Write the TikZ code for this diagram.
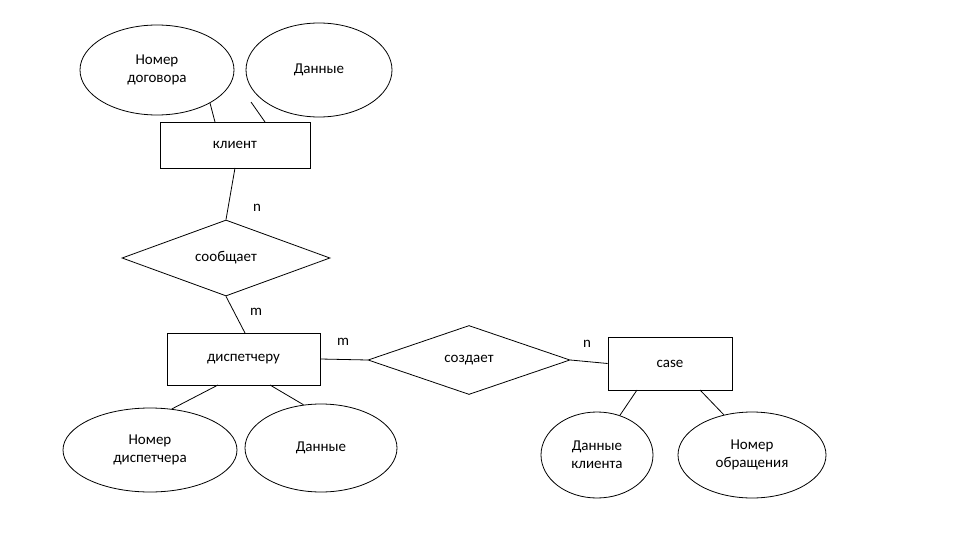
\documentclass[tikz,border=0pt]{standalone}
\usepackage{fontspec}
\setmainfont{Carlito}
\usetikzlibrary{shapes.geometric}
\begin{document}
\begin{tikzpicture}[x=1pt,y=-1pt,
  every node/.style={font=\fontsize{15}{18}\selectfont, align=center, inner sep=0pt},
  att/.style={draw, thick, ellipse},
  ln/.style={thick}]
\useasboundingbox (0,0) rectangle (960,540);
\node[att, minimum width=154, minimum height=90] (e1) at (157,70) {Номер\\договора};
\node[att, minimum width=146, minimum height=94] (e2) at (319,70) {Данные};
\node[draw, thick, minimum width=150, minimum height=46] (klient) at (235,145) {клиент};
\node[draw, thick, diamond, minimum width=208, minimum height=76, shape aspect=2.7] (soob) at (226,258) {сообщает};
\node[draw, thick, minimum width=153, minimum height=52] (disp) at (243.5,359) {диспетчеру};
\node[draw, thick, diamond, minimum width=202, minimum height=69, shape aspect=2.9] (sozd) at (469,360) {создает};
\node[draw, thick, minimum width=124, minimum height=53] (case) at (670,363.5) {case};
\node[att, minimum width=174, minimum height=84] (e3) at (150,450) {Номер\\диспетчера};
\node[att, minimum width=152, minimum height=88] (e4) at (321,448) {Данные};
\node[att, minimum width=112, minimum height=86] (e5) at (597,455) {Данные\\клиента};
\node[att, minimum width=148, minimum height=86] (e6) at (752,455) {Номер\\обращения};
\coordinate (a1) at (210,103); \coordinate (k1) at (215,122);
\coordinate (a2) at (251,102); \coordinate (k2) at (265,122);
\draw[ln] (a1) -- (k1);
\draw[ln] (a2) -- (k2);
\draw[ln] (235,168) -- (soob.north);
\draw[ln] (soob.south) -- (245,333);
\draw[ln] (disp.east) -- (sozd.west);
\draw[ln] (sozd.east) -- (case.west);
\draw[ln] (218,385) -- (e3.62);
\draw[ln] (270,385) -- (e4.112);
\draw[ln] (637,390) -- (e5.60);
\draw[ln] (700,390) -- (e6.125);
\node at (257,208) {n};
\node at (256,312) {m};
\node at (343,342) {m};
\node at (587,344) {n};
\end{tikzpicture}
\end{document}
